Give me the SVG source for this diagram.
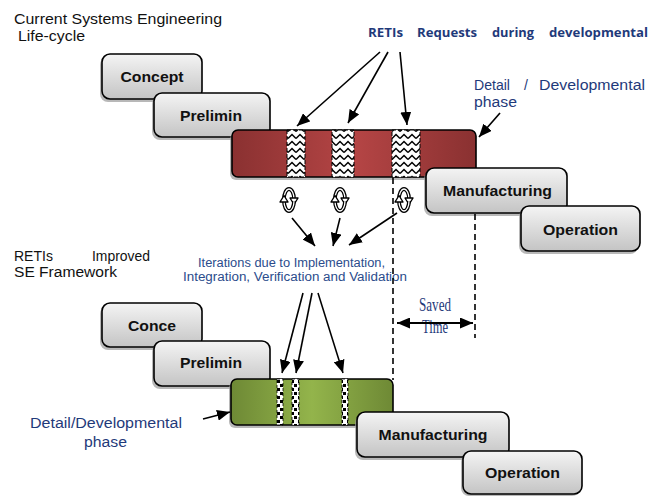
<svg xmlns="http://www.w3.org/2000/svg" width="652" height="496" viewBox="0 0 652 496">
<style>
.box{fill:url(#gray);stroke:#000;stroke-width:1.6}
.sh{fill:#9a9a9a;opacity:0.7}
.lbl{font-family:"Liberation Sans",Arial,sans-serif;font-weight:bold;font-size:15px;fill:#111;text-anchor:middle}
.t{font-family:"Liberation Sans",Arial,sans-serif;font-size:14px;fill:#111}
.blue{font-family:"Liberation Sans",Arial,sans-serif;font-size:14px;fill:#1f3a7a}
.hdr{font-family:"Open Sans","Liberation Sans",sans-serif;font-weight:bold;font-size:12.5px;fill:#1f3a7a}
.it{font-family:"Liberation Sans",Arial,sans-serif;font-size:12px;fill:#2b4c8c;text-anchor:middle}
.sv{font-family:"Liberation Serif","Times New Roman",serif;font-size:19px;fill:#1f3a7a}
.ln{stroke:#000;stroke-width:1.6;fill:none;marker-end:url(#ah)}
.dash{stroke:#000;stroke-width:1.6;fill:none;stroke-dasharray:6,4}
.cyc{stroke:#000;stroke-width:3.8;fill:none}
.cyi{stroke:#fff;stroke-width:1.3;fill:none}
.cyh{fill:#fff;stroke:#000;stroke-width:1.4;stroke-linejoin:round}
.zz{fill:url(#zig);stroke:#000;stroke-width:1;stroke-dasharray:4,2}
.ck{fill:url(#chk);stroke:#000;stroke-width:0.8;stroke-dasharray:3,2}
</style>
<defs>
<linearGradient id="gray" x1="0" y1="0" x2="0" y2="1">
<stop offset="0" stop-color="#f4f4f4"/><stop offset="1" stop-color="#c4c4c4"/>
</linearGradient>
<linearGradient id="red" x1="0" y1="0" x2="1" y2="0">
<stop offset="0" stop-color="#8a3131"/><stop offset="0.5" stop-color="#b54545"/><stop offset="1" stop-color="#8a3131"/>
</linearGradient>
<linearGradient id="green" x1="0" y1="0" x2="1" y2="0">
<stop offset="0" stop-color="#6e8935"/><stop offset="0.5" stop-color="#93b44b"/><stop offset="1" stop-color="#6e8935"/>
</linearGradient>
<pattern id="zig" patternUnits="userSpaceOnUse" width="8" height="7">
<rect width="8" height="7" fill="#fff"/>
<path d="M0,5.5 L4,1.5 L8,5.5" stroke="#000" stroke-width="1.5" fill="none"/>
</pattern>
<pattern id="chk" patternUnits="userSpaceOnUse" width="7" height="8">
<rect width="7" height="8" fill="#fff"/>
<rect x="0" y="0" width="3" height="3" fill="#000"/>
<rect x="4" y="4" width="3" height="3" fill="#000"/>
</pattern>
<marker id="ah" markerUnits="userSpaceOnUse" markerWidth="13" markerHeight="11" refX="13" refY="5.5" orient="auto-start-reverse">
<path d="M0,0 L13,5.5 L0,11 z" fill="#000"/>
</marker>
<g id="cy">
<path class="cyc" d="M-5,-1 A5,10 0 0 1 5,-1"/><path class="cyi" d="M-5,-1 A5,10 0 0 1 5,-1"/>
<polygon class="cyh" points="1,-2 9,-2 5,4.5"/>
<path class="cyc" d="M5,1 A5,10 0 0 1 -5,1"/><path class="cyi" d="M5,1 A5,10 0 0 1 -5,1"/>
<polygon class="cyh" points="-9,2 -1,2 -5,-4.5"/>
</g>
</defs>
<rect width="652" height="496" fill="#fff"/>

<text class="t" x="14" y="24" textLength="208" lengthAdjust="spacingAndGlyphs">Current Systems Engineering</text>
<text class="t" x="18" y="41" textLength="67" lengthAdjust="spacingAndGlyphs">Life-cycle</text>
<text class="t" x="14" y="261">RETIs</text>
<text class="t" x="92" y="261" textLength="58" lengthAdjust="spacingAndGlyphs">Improved</text>
<text class="t" x="14" y="277" textLength="103" lengthAdjust="spacingAndGlyphs">SE Framework</text>

<text class="hdr" x="368" y="37" textLength="35" lengthAdjust="spacingAndGlyphs">RETIs</text>
<text class="hdr" x="417" y="37" textLength="60" lengthAdjust="spacingAndGlyphs">Requests</text>
<text class="hdr" x="492" y="37" textLength="42" lengthAdjust="spacingAndGlyphs">during</text>
<text class="hdr" x="549" y="37" textLength="99" lengthAdjust="spacingAndGlyphs">developmental</text>

<text class="blue" x="474" y="90" textLength="36" lengthAdjust="spacingAndGlyphs">Detail</text>
<text class="blue" x="524" y="90">/</text>
<text class="blue" x="539" y="90" textLength="106" lengthAdjust="spacingAndGlyphs">Developmental</text>
<text class="blue" x="474" y="107" textLength="43" lengthAdjust="spacingAndGlyphs">phase</text>

<text class="it" x="291.5" y="267" textLength="187" lengthAdjust="spacingAndGlyphs">Iterations due to Implementation,</text>
<text class="it" x="295" y="281" textLength="224" lengthAdjust="spacingAndGlyphs">Integration, Verification and Validation</text>

<text class="sv" x="419" y="311" textLength="32" lengthAdjust="spacingAndGlyphs">Saved</text>
<text class="sv" x="422" y="333" textLength="26" lengthAdjust="spacingAndGlyphs">Time</text>

<text class="blue" x="30" y="428" textLength="152" lengthAdjust="spacingAndGlyphs">Detail/Developmental</text>
<text class="blue" x="84" y="447" textLength="43" lengthAdjust="spacingAndGlyphs">phase</text>

<g id="concept">
<rect class="sh" x="100" y="57" width="100" height="45" rx="8"/>
<rect class="box" x="102" y="54" width="100" height="45" rx="8"/>
<text class="lbl" x="152" y="82" textLength="63" lengthAdjust="spacingAndGlyphs">Concept</text>
</g>
<g id="prelimin">
<rect class="sh" x="152" y="96" width="116" height="44" rx="8"/>
<rect class="box" x="154" y="93" width="116" height="44" rx="8"/>
<text class="lbl" x="211" y="121" textLength="62" lengthAdjust="spacingAndGlyphs">Prelimin</text>
</g>
<g id="detail-red">
<rect fill="#9a9a9a" opacity="0.7" x="230" y="133" width="244" height="47" rx="6"/>
<rect x="232" y="130" width="244" height="47" rx="6" fill="url(#red)" stroke="#000" stroke-width="1.6"/>
<rect class="zz" x="287" y="130" width="18" height="47"/>
<rect class="zz" x="332" y="130" width="22" height="47"/>
<rect class="zz" x="392" y="130" width="28" height="47"/>
</g>
<g id="manufacturing">
<rect class="sh" x="424" y="171" width="141" height="45" rx="8"/>
<rect class="box" x="426" y="168" width="141" height="45" rx="8"/>
<text class="lbl" x="497.5" y="196" textLength="109" lengthAdjust="spacingAndGlyphs">Manufacturing</text>
</g>
<g id="operation">
<rect class="sh" x="519" y="209" width="119" height="45" rx="8"/>
<rect class="box" x="521" y="206" width="119" height="45" rx="8"/>
<text class="lbl" x="580.5" y="235" textLength="75" lengthAdjust="spacingAndGlyphs">Operation</text>
</g>

<g id="cycles">
<use href="#cy" x="289" y="200"/>
<use href="#cy" x="340" y="200"/>
<use href="#cy" x="404" y="200"/>
</g>

<g id="conce">
<rect class="sh" x="100" y="306" width="100" height="44" rx="8"/>
<rect class="box" x="102" y="303" width="100" height="44" rx="8"/>
<text class="lbl" x="152" y="331" textLength="48" lengthAdjust="spacingAndGlyphs">Conce</text>
</g>
<g id="prelimin2">
<rect class="sh" x="152" y="344" width="116" height="45" rx="8"/>
<rect class="box" x="154" y="341" width="116" height="45" rx="8"/>
<text class="lbl" x="211" y="368" textLength="62" lengthAdjust="spacingAndGlyphs">Prelimin</text>
</g>
<g id="detail-green">
<rect fill="#9a9a9a" opacity="0.7" x="229" y="382" width="162" height="46" rx="6"/>
<rect x="231" y="379" width="162" height="46" rx="6" fill="url(#green)" stroke="#000" stroke-width="1.6"/>
<rect class="ck" x="277" y="379" width="6" height="46"/>
<rect class="ck" x="292" y="379" width="7" height="46"/>
<rect class="ck" x="342" y="379" width="6" height="46"/>
</g>
<g id="manufacturing2">
<rect class="sh" x="355" y="415" width="152" height="45" rx="8"/>
<rect class="box" x="357" y="412" width="152" height="45" rx="8"/>
<text class="lbl" x="433" y="440" textLength="109" lengthAdjust="spacingAndGlyphs">Manufacturing</text>
</g>
<g id="operation2">
<rect class="sh" x="461" y="454" width="119" height="42" rx="8"/>
<rect class="box" x="463" y="451" width="119" height="43" rx="8"/>
<text class="lbl" x="522.5" y="478" textLength="75" lengthAdjust="spacingAndGlyphs">Operation</text>
</g>

<g id="connectors">
<line class="ln" x1="380" y1="52" x2="297" y2="126"/>
<line class="ln" x1="388" y1="52" x2="348" y2="123"/>
<line class="ln" x1="400" y1="52" x2="407" y2="125"/>
<line class="ln" x1="500" y1="113" x2="479" y2="137"/>
<line class="ln" x1="292" y1="218" x2="315" y2="246"/>
<line class="ln" x1="340" y1="218" x2="333" y2="246"/>
<line class="ln" x1="397" y1="213" x2="349" y2="245"/>
<line class="ln" x1="303" y1="293" x2="282" y2="373"/>
<line class="ln" x1="312" y1="293" x2="296" y2="373"/>
<line class="ln" x1="318" y1="293" x2="343" y2="373"/>
<line class="ln" x1="203" y1="419" x2="230" y2="412"/>
<line class="dash" x1="393" y1="178" x2="393" y2="380"/>
<line class="dash" x1="475" y1="214" x2="475" y2="338"/>
<line x1="397" y1="323" x2="473" y2="323" stroke="#000" stroke-width="2.2" marker-start="url(#ah)" marker-end="url(#ah)"/>
</g>
</svg>
